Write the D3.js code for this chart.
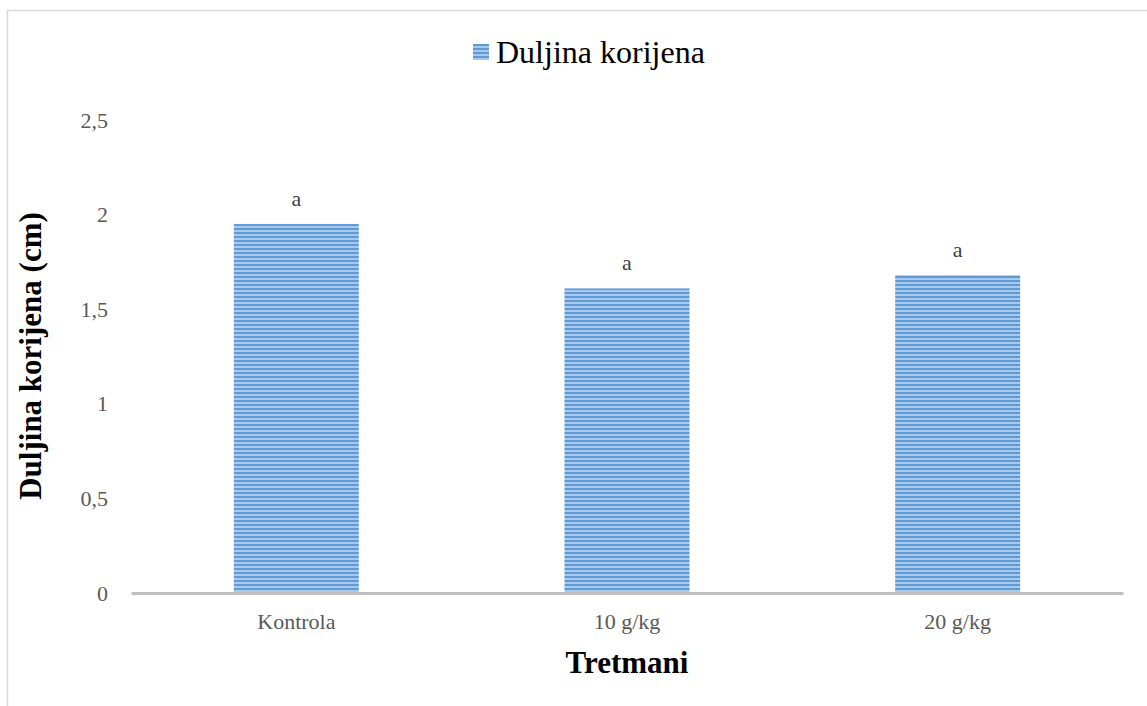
<!DOCTYPE html>
<html><head><meta charset="utf-8">
<script src="https://cdn.jsdelivr.net/npm/d3@7"></script>
<style>body{margin:0;background:#fff}svg{display:block}
svg text{font-family:"Liberation Serif","Times New Roman",serif;}</style>
</head><body>
<script>
const categories = ["Kontrola", "10 g/kg", "20 g/kg"];
const values = [1.95, 1.61, 1.68];
const letters = ["a", "a", "a"];
const yTicks = [0, 0.5, 1, 1.5, 2, 2.5];
const seriesName = "Duljina korijena";
const xTitle = "Tretmani";
const yTitle = "Duljina korijena (cm)";

const W = 1147, H = 706;
const svg = d3.select("body").append("svg").attr("width", W).attr("height", H);
const defs = svg.append("defs");
const pat = defs.append("pattern").attr("id", "stripes").attr("patternUnits", "userSpaceOnUse")
  .attr("width", 8).attr("height", 4);
pat.append("rect").attr("width", 8).attr("height", 4).attr("fill", "#a9c9ec");
pat.append("rect").attr("y", 0).attr("width", 8).attr("height", 2).attr("fill", "#5e9bd6");

// outer border
svg.append("path").attr("d", "M7.5,706 V10.5 H1147").attr("fill", "none").attr("stroke", "#d9d9d9").attr("stroke-width", 1.5);

const m = {left: 131, right: 1123, top: 120, bottom: 593};
const x = d3.scaleBand().domain(categories).range([m.left, m.right]).paddingInner(0.622).paddingOuter(0.311);
const y = d3.scaleLinear().domain([0, 2.5]).range([m.bottom, m.top]);

// y tick labels
const yAxis = d3.axisLeft(y).tickValues(yTicks).tickSize(0).tickPadding(0)
  .tickFormat(d => String(d).replace(".", ","));
const gy = svg.append("g").attr("transform", `translate(108,0)`).call(yAxis);
gy.select(".domain").remove();
gy.attr("font-family", null);
gy.selectAll("text").attr("font-size", 22).attr("fill", "#595959");

// bars
svg.selectAll("rect.bar").data(values).enter().append("rect").attr("class", "bar")
  .attr("x", (d, i) => x(categories[i])).attr("width", x.bandwidth())
  .attr("y", d => y(d)).attr("height", d => y(0) - y(d)).attr("fill", "url(#stripes)");

// x axis line
const xAxis = d3.axisBottom(x).tickSize(0).tickPadding(20);
const gx = svg.append("g").attr("transform", `translate(0,${y(0)})`).call(xAxis);
gx.attr("font-family", null);
gx.select(".domain").attr("stroke", "#bfbfbf").attr("stroke-width", 3);
gx.selectAll("text").attr("font-size", 22).attr("fill", "#595959");

// letters
svg.selectAll("text.lbl").data(values).enter().append("text").attr("class", "lbl")
  .attr("x", (d, i) => x(categories[i]) + x.bandwidth() / 2).attr("y", d => y(d) - 18)
  .attr("text-anchor", "middle").attr("font-size", 22).attr("fill", "#404040")
  .text((d, i) => letters[i]);

// axis titles
svg.append("text").attr("x", (m.left + m.right) / 2).attr("y", 673).attr("text-anchor", "middle")
  .attr("font-size", 31).attr("font-weight", "bold").attr("fill", "#000").text(xTitle);
svg.append("text").attr("transform", "translate(41,356) rotate(-90)").attr("text-anchor", "middle")
  .attr("font-size", 31).attr("font-weight", "bold").attr("fill", "#000").text(yTitle);

// legend
svg.append("rect").attr("x", 473).attr("y", 44).attr("width", 16).attr("height", 16).attr("fill", "url(#stripes)");
svg.append("text").attr("x", 496).attr("y", 63).attr("font-size", 32).attr("fill", "#000").text(seriesName);
</script>
</body></html>
